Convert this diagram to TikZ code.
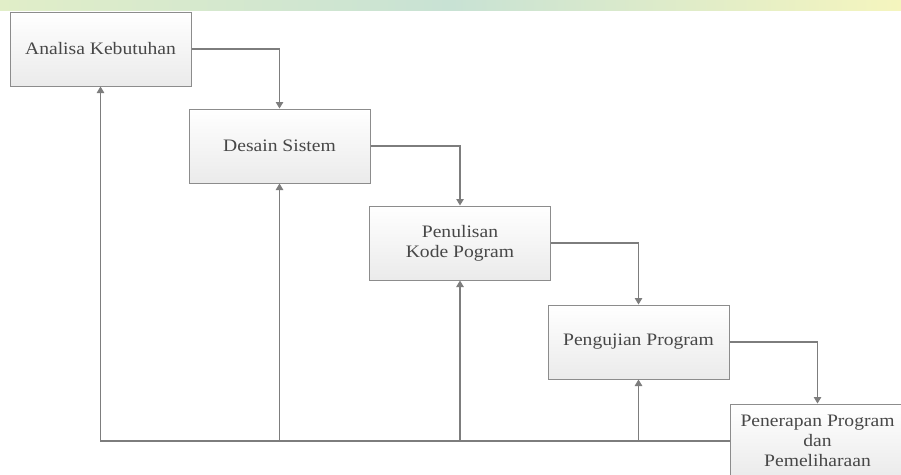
\documentclass[tikz,border=0pt]{standalone}
\usepackage{fontspec}
\setmainfont{Liberation Serif}
\usetikzlibrary{arrows.meta}
\definecolor{lncol}{RGB}{125,125,125}
\definecolor{bdcol}{RGB}{140,140,140}
\definecolor{bandmid}{RGB}{200,226,212}
\definecolor{bandleft}{RGB}{225,238,200}
\definecolor{bandright}{RGB}{245,245,190}
\newcommand\hsq[1]{\scalebox{1.12}[1]{#1}}
\begin{document}
\begin{tikzpicture}[x=1pt,y=-1pt,
  stage/.style={draw=bdcol, line width=1pt, top color=white, bottom color=gray!16,
    minimum width=181pt, minimum height=74pt, inner sep=0pt, align=center,
    font=\fontsize{17.5}{20}\selectfont, text=black!72},
  conn/.style={draw=lncol, line width=1.1pt, -{Triangle[width=7.5pt,length=6.5pt]}}]
\useasboundingbox (0,0) rectangle (901,474);
\clip (0,0) rectangle (901,474);
\fill[white] (0,0) rectangle (901,474);
\shade[left color=bandleft, right color=bandright, middle color=bandmid] (0,0) rectangle (901,10);

\node[stage] (n1) at (100.5,49) {\hsq{Analisa Kebutuhan}};
\node[stage] (n2) at (279.5,146) {\hsq{Desain Sistem}};
\node[stage] (n3) at (460,243) {\hsq{Penulisan}\\\hsq{Kode Pogram}};
\node[stage] (n4) at (638.5,342) {\hsq{Pengujian Program}};
\node[stage, minimum width=175pt] (n5) at (817.5,441) {\hsq{Penerapan Program}\\\hsq{dan}\\\hsq{Pemeliharaan}};

\draw[conn] (n1.east) -| (n2.north);
\draw[conn] (n2.east) -| (n3.north);
\draw[conn] (n3.east) -| (n4.north);
\draw[conn] (n4.east) -| (n5.north);

\draw[conn] (n5.west) -| (n1.south);
\coordinate (b2) at (n2.south |- n5.west);
\coordinate (b3) at (n3.south |- n5.west);
\coordinate (b4) at (n4.south |- n5.west);
\draw[conn] (b2) -- (n2.south);
\draw[conn] (b3) -- (n3.south);
\draw[conn] (b4) -- (n4.south);
\end{tikzpicture}
\end{document}
